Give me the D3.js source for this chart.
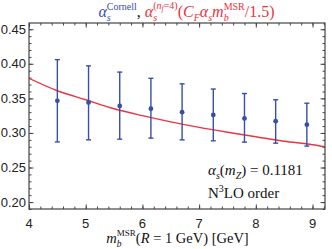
<!DOCTYPE html>
<html>
<head>
<meta charset="utf-8">
<script src="https://cdn.jsdelivr.net/npm/d3@7"></script>
<style>
  body { margin: 0; background: #fff; }
  svg { display: block; }
  text { white-space: pre; }
</style>
</head>
<body>
<div id="chart"></div>
<script>
// Cornell points with error bars
var massPoints = [4.5, 5.05, 5.6, 6.15, 6.7, 7.25, 7.8, 8.35, 8.9];
var alphaCentral = [0.3465, 0.344, 0.339, 0.335, 0.330, 0.326, 0.321, 0.317, 0.312];
var alphaUpper = [0.406, 0.397, 0.388, 0.379, 0.371, 0.3635, 0.357, 0.348, 0.343];
var alphaLower = [0.287, 0.290, 0.291, 0.2925, 0.290, 0.2886, 0.2867, 0.2852, 0.281];

// red curve alpha_s(C_F alpha_s m_b / 1.5)
var curveMass = [4, 4.5, 5, 5.5, 6, 6.5, 7, 7.5, 8, 8.5, 9, 9.22];
var curveAlpha = [0.379, 0.361, 0.348, 0.335, 0.325, 0.316, 0.308, 0.301, 0.2945, 0.288, 0.283, 0.280];

var xTicks = [4, 5, 6, 7, 8, 9];
var yTicks = [0.20, 0.25, 0.30, 0.35, 0.40, 0.45];

var W = 332, H = 249;
var margin = {left: 29, right: 7, top: 23, bottom: 40};
var blue = '#3a4ea6', red = '#ec3341', frameCol = '#444';

var svg = d3.select('#chart').append('svg')
    .attr('width', W)
    .attr('height', H);

var x = d3.scaleLinear().domain([4, 9.22]).range([margin.left, W - margin.right]);
var y = d3.scaleLinear().domain([0.19, 0.459]).range([H - margin.bottom, margin.top]);

// minor ticks
var xMinor = d3.range(4, 9.3, 0.2).filter(function(v) { return v <= 9.22 + 1e-9; });
var yMinor = d3.range(0.19, 0.4595, 0.01);

function frameAxis(axisFn, scale, major, minor, transform) {
  var g = svg.append('g').attr('transform', transform);
  g.call(axisFn(scale).tickValues(minor).tickSize(-2.5).tickFormat(''));
  g.selectAll('.domain').remove();
  var g2 = svg.append('g').attr('transform', transform);
  g2.call(axisFn(scale).tickValues(major).tickSize(-4.5).tickFormat(''));
  g2.selectAll('.domain').remove();
  svg.selectAll('.tick line').attr('stroke', frameCol).attr('stroke-width', 1);
}

var bottomY = H - margin.bottom, topY = margin.top;
var leftX = margin.left, rightX = W - margin.right;

frameAxis(d3.axisBottom, x, xTicks, xMinor, 'translate(0,' + bottomY + ')');
frameAxis(d3.axisTop, x, xTicks, xMinor, 'translate(0,' + topY + ')');
frameAxis(d3.axisLeft, y, yTicks, yMinor, 'translate(' + leftX + ',0)');
frameAxis(d3.axisRight, y, yTicks, yMinor, 'translate(' + rightX + ',0)');

// tick labels
svg.append('g').selectAll('text')
    .data(xTicks)
  .enter().append('text')
    .attr('x', function(d) { return x(d); })
    .attr('y', bottomY + 18.5)
    .attr('text-anchor', 'middle')
    .style('font', '13px "Liberation Sans", Arial, sans-serif')
    .style('fill', '#222')
    .text(function(d) { return d; });

svg.append('g').selectAll('text')
    .data(yTicks)
  .enter().append('text')
    .attr('x', leftX - 3)
    .attr('y', function(d) { return y(d) + 4.5; })
    .attr('text-anchor', 'end')
    .style('font', '13px "Liberation Sans", Arial, sans-serif')
    .style('fill', '#222')
    .text(function(d) { return d3.format('.2f')(d); });

// plot area clip
svg.append('clipPath').attr('id', 'clip')
  .append('rect')
    .attr('x', leftX).attr('y', topY)
    .attr('width', rightX - leftX).attr('height', bottomY - topY);

var line = d3.line()
    .x(function(d) { return x(d[0]); })
    .y(function(d) { return y(d[1]); })
    .curve(d3.curveMonotoneX);

svg.append('path')
    .datum(d3.zip(curveMass, curveAlpha))
    .attr('clip-path', 'url(#clip)')
    .attr('d', line)
    .style('fill', 'none')
    .style('stroke', red)
    .style('stroke-width', 1.4);

var pts = massPoints.map(function(m, i) {
  return {m: m, c: alphaCentral[i], hi: alphaUpper[i], lo: alphaLower[i]};
});

var bars = svg.append('g').selectAll('g')
    .data(pts)
  .enter().append('g')
    .style('stroke', blue)
    .style('stroke-width', 1.4);

bars.append('line')
    .attr('x1', function(d) { return x(d.m); })
    .attr('x2', function(d) { return x(d.m); })
    .attr('y1', function(d) { return y(d.hi); })
    .attr('y2', function(d) { return y(d.lo); });
bars.selectAll('.cap')
    .data(function(d) { return [[d.m, d.hi], [d.m, d.lo]]; })
  .enter().append('line')
    .attr('x1', function(d) { return x(d[0]) - 2.5; })
    .attr('x2', function(d) { return x(d[0]) + 2.5; })
    .attr('y1', function(d) { return y(d[1]); })
    .attr('y2', function(d) { return y(d[1]); });

svg.append('g').selectAll('circle')
    .data(pts)
  .enter().append('circle')
    .attr('cx', function(d) { return x(d.m); })
    .attr('cy', function(d) { return y(d.c); })
    .attr('r', 2.4)
    .style('fill', blue);

// frame
svg.append('rect')
    .attr('x', leftX).attr('y', topY)
    .attr('width', rightX - leftX).attr('height', bottomY - topY)
    .style('fill', 'none')
    .style('stroke', frameCol)
    .style('stroke-width', 1.2);

// rich text: one <text>, tspans laid out left to right, marks for stacked sub/sup
function rich(px, py, pieces, anchor, base) {
  base = base || 15;
  var t = svg.append('text')
      .style('font-family', '"Liberation Serif", "Times New Roman", serif')
      .style('font-size', base + 'px')
      .style('fill', '#111');
  var cx = 0, mark = 0, maxX = 0, spans = [];
  pieces.forEach(function(p) {
    var start = p.fromMark ? mark : cx;
    if(p.mark) mark = start;
    var s = t.append('tspan')
        .attr('x', start)
        .attr('y', p.dy || 0)
        .style('font-size', (p.size || base) + 'px')
        .style('font-style', p.it ? 'italic' : 'normal')
        .text(p.s);
    if(p.fill) s.style('fill', p.fill);
    var w = s.node().getComputedTextLength();
    spans.push([s, start, p.dy || 0]);
    maxX = Math.max(maxX, start + w);
    cx = p.fromMark ? maxX : start + w;
  });
  var x0 = px + (anchor === 'middle' ? -maxX / 2 : 0);
  spans.forEach(function(d) {
    d[0].attr('x', x0 + d[1]).attr('y', py + d[2]);
  });
  return t;
}

var SUP = -7, SUB = 4.2, SS = 10;

// title
rich(186.5, 17, [
  {s: 'α', it: true, fill: blue},
  {s: 'Cornell', size: SS, dy: SUP, fill: blue, mark: true},
  {s: 's', size: SS, dy: SUB, it: true, fill: blue, fromMark: true},
  {s: ', ', fill: '#111'},
  {s: 'α', it: true, fill: red},
  {s: '(', size: SS, dy: SUP - 1, fill: red, mark: true},
  {s: 'n', size: SS, dy: SUP - 1, it: true, fill: red},
  {s: 'f', size: 7.5, dy: SUP + 0.5, it: true, fill: red},
  {s: '=4)', size: SS, dy: SUP - 1, fill: red},
  {s: 's', size: SS, dy: SUB, it: true, fill: red, fromMark: true},
  {s: '(', fill: red},
  {s: 'C', it: true, fill: red},
  {s: 'F', size: SS, dy: SUB, it: true, fill: red},
  {s: 'α', it: true, fill: red},
  {s: 's', size: SS, dy: SUB, it: true, fill: red},
  {s: 'm', it: true, fill: red},
  {s: 'MSR', size: SS, dy: SUP, fill: red, mark: true},
  {s: 'b', size: SS, dy: SUB, it: true, fill: red, fromMark: true},
  {s: '/1.5)', fill: red}
], 'middle', 16);

// x axis label
rich(177.5, 243, [
  {s: 'm', it: true},
  {s: 'MSR', size: 9, dy: -7, mark: true},
  {s: 'b', size: 9.5, dy: 3.5, it: true, fromMark: true},
  {s: '('},
  {s: 'R', it: true},
  {s: ' = 1 GeV) [GeV]'}
], 'middle', 14.5);

// annotation
rich(208, 175, [
  {s: 'α', it: true},
  {s: 's', size: SS, dy: 3.5, it: true},
  {s: '('},
  {s: 'm', it: true},
  {s: 'Z', size: SS, dy: 3.5, it: true},
  {s: ') = 0.1181'}
], 'start');

rich(208, 198, [
  {s: 'N'},
  {s: '3', size: SS, dy: -6.5},
  {s: 'LO order'}
], 'start');
</script>
</body>
</html>
